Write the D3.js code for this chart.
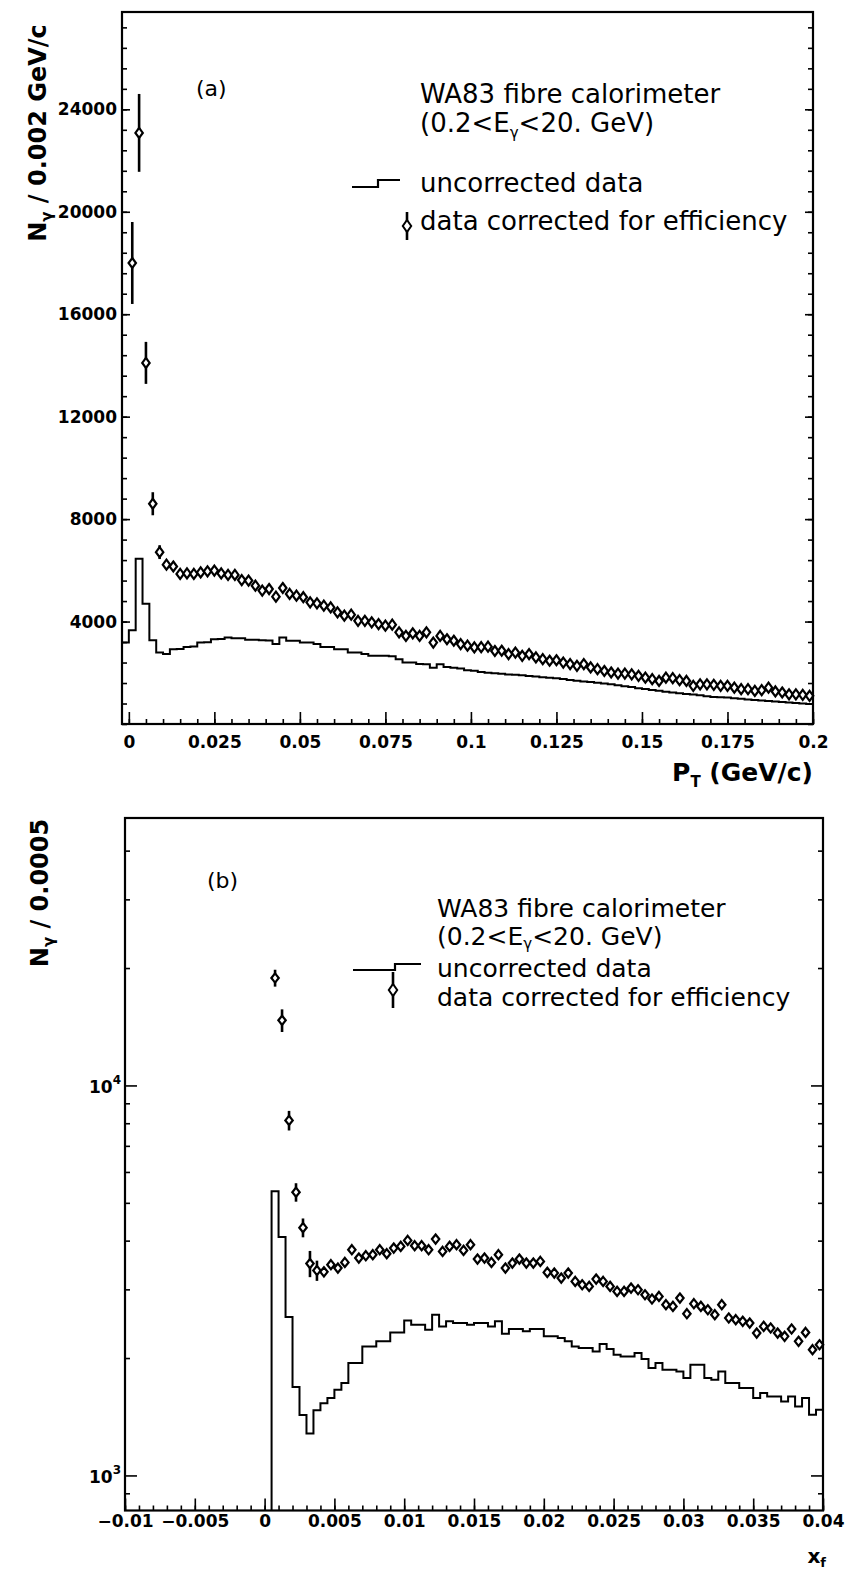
<!DOCTYPE html>
<html>
<head>
<meta charset="utf-8">
<script src="https://cdn.jsdelivr.net/npm/d3@7"></script>
<style>
  body { margin: 0; background: #fff; }
  text { font-family: "DejaVu Sans", sans-serif; fill: #000; }
</style>
</head>
<body>
<script>
// ---- panel (a): pT spectrum, bins of 0.002 GeV/c, first bin starts at -0.002
const ptBinWidth = 0.002;
const ptBinStart = -0.002;
const ptUncorrected = [3180,
  3660, 6450, 4700, 3270, 2790, 2730, 2920, 2930, 3010, 3030,
  3180, 3190, 3310, 3320, 3380, 3350, 3350, 3290, 3290, 3270,
  3260, 3120, 3380, 3250, 3250, 3180, 3180, 3120, 3010, 3010,
  2920, 2920, 2790, 2790, 2730, 2660, 2660, 2660, 2650, 2530,
  2400, 2400, 2340, 2330, 2200, 2330, 2230, 2200, 2170, 2100,
  2080, 2030, 2000, 1980, 1960, 1930, 1920, 1900, 1870, 1850,
  1830, 1810, 1790, 1760, 1720, 1690, 1660, 1640, 1610, 1580,
  1550, 1510, 1470, 1440, 1400, 1370, 1330, 1300, 1260, 1230,
  1200, 1170, 1150, 1120, 1080, 1050, 1040, 1030, 1010, 990,
  960, 940, 920, 900, 880, 860, 840, 820, 800, 780];
// corrected points, bin centres 0.001, 0.003, ...
const ptCorrected = [
  18000, 23080, 14100, 8600, 6710, 6220, 6150, 5860, 5880, 5860,
  5920, 5960, 5990, 5880, 5820, 5820, 5620, 5600, 5400, 5210,
  5270, 4970, 5310, 5080, 5010, 4950, 4750, 4710, 4620, 4550,
  4360, 4230, 4270, 4030, 4030, 3970, 3900, 3840, 3880, 3580,
  3440, 3540, 3440, 3580, 3180, 3440, 3310, 3250, 3120, 3060,
  2990, 3000, 3020, 2850, 2860, 2730, 2790, 2660, 2730, 2600,
  2530, 2470, 2490, 2400, 2340, 2270, 2340, 2210, 2140, 2070,
  2010, 1970, 1970, 1940, 1880, 1810, 1750, 1680, 1810, 1790,
  1710, 1680, 1490, 1550, 1550, 1530, 1490, 1490, 1420, 1360,
  1360, 1290, 1320, 1420, 1270, 1230, 1160, 1160, 1140, 1100];
const ptCorrectedErr = [1600, 1520, 820, 450, 270];   // the rest are hidden inside the markers
const ptErrDefault = 90;
const ptMajorTicks = [0, 0.025, 0.05, 0.075, 0.1, 0.125, 0.15, 0.175, 0.2];
const ptTickLabels = ["0", "0.025", "0.05", "0.075", "0.1", "0.125", "0.15", "0.175", "0.2"];
const nYTicksA = [4000, 8000, 12000, 16000, 20000, 24000];

// ---- panel (b): xF spectrum, bins of 0.0005, first bin starts at 0.0005
const xfBinWidth = 0.0005;
const xfBinStart = 0.0005;
const xfUncorrected = [
  5355, 4089, 2548, 1686, 1429, 1280, 1470, 1531, 1580, 1659,
  1725, 1942, 1942, 2141, 2141, 2207, 2207, 2326, 2326, 2497,
  2434, 2434, 2364, 2583, 2411, 2484, 2459, 2459, 2434, 2459,
  2459, 2411, 2484, 2308, 2374, 2374, 2341, 2374, 2374, 2273,
  2273, 2251, 2207, 2141, 2122, 2122, 2080, 2172, 2110, 2040,
  2019, 2019, 2060, 1988, 1886, 1942, 1866, 1866, 1848, 1777,
  1922, 1922, 1777, 1759, 1848, 1725, 1725, 1675, 1675, 1579,
  1627, 1594, 1594, 1548, 1594, 1503, 1579, 1431, 1474];
const xfCorrected = [
  18860, 14690, 8135, 5324, 4319, 3494, 3354, 3327, 3470, 3402,
  3517, 3791, 3609, 3659, 3681, 3791, 3703, 3828, 3866, 4005,
  3882, 3882, 3791, 4037, 3753, 3866, 3905, 3776, 3905, 3588,
  3609, 3517, 3681, 3402, 3504, 3588, 3504, 3504, 3538, 3316,
  3303, 3207, 3303, 3144, 3083, 3053, 3188, 3144, 3053, 2964,
  2964, 3023, 2993, 2906, 2834, 2877, 2740, 2713, 2850, 2598,
  2756, 2713, 2660, 2583, 2740, 2533, 2508, 2484, 2459, 2318,
  2411, 2388, 2318, 2273, 2374, 2207, 2326, 2101, 2163];
const xfCorrectedErr = [940, 980, 470, 290, 240, 270, 200];
const xfErrDefault = 50;
const xfMajorTicks = [-0.01, -0.005, 0, 0.005, 0.01, 0.015, 0.02, 0.025, 0.03, 0.035, 0.04];
const xfTickLabels = ["\u22120.01", "\u22120.005", "0", "0.005", "0.01", "0.015", "0.02", "0.025", "0.03", "0.035", "0.04"];
const nYTicksB = [1000, 10000];
const nYTicksBExp = ["3", "4"];
const nYMinorB = [900, 2000, 3000, 4000, 5000, 6000, 7000, 8000, 9000, 20000, 30000, 40000];

const legendTitle = "WA83 fibre calorimeter";
const legendUncorr = "uncorrected data";
const legendCorr = "data corrected for efficiency";

const svg = d3.select("body").append("svg")
  .attr("width", 846)
  .attr("height", 1570);

// panel boxes
const boxA = { left: 122, right: 813, top: 12, bottom: 724 };
const boxB = { left: 125, right: 823, top: 818, bottom: 1510.5 };

const xA = d3.scaleLinear().domain([-0.002, 0.2]).range([boxA.left, boxA.right]);
const yA = d3.scaleLinear().domain([0, 27800]).range([boxA.bottom, boxA.top]);
const xB = d3.scaleLinear().domain([-0.01, 0.04]).range([boxB.left, boxB.right]);
const yB = d3.scaleLog().domain([813, 48500]).range([boxB.bottom, boxB.top]);

function styleAxis(g, fs) {
  g.select(".domain").remove();
  g.selectAll(".tick line").attr("stroke", "#000").attr("stroke-width", 1.6);
  g.selectAll(".tick text")
    .attr("font-family", "DejaVu Sans")
    .attr("font-weight", "bold")
    .attr("font-size", fs);
  g.attr("font-family", null).attr("font-size", null);
}

function stepPoints(start, bw, vals, base) {
  const pts = [[start, base]];
  vals.forEach((v, i) => {
    pts.push([start + i * bw, v], [start + (i + 1) * bw, v]);
  });
  pts.push([start + vals.length * bw, base]);
  return pts;
}

function diamond(w, h) {
  return `M0,${-h}L${w},0L0,${h}L${-w},0Z`;
}

function drawPanel(o) {
  const { box, x, y } = o;
  const g = svg.append("g");

  // minor + major x ticks, pointing into the plot
  const gxm = g.append("g").attr("transform", "translate(0," + box.bottom + ")")
    .call(d3.axisBottom(x).tickValues(o.xMinor).tickSize(-5).tickFormat(""));
  styleAxis(gxm, 17);
  const gx = g.append("g").attr("transform", "translate(0," + box.bottom + ")")
    .call(d3.axisBottom(x).tickValues(o.xMajor).tickSize(-12).tickPadding(o.xPad)
      .tickFormat((d, i) => o.xLabels[i]));
  styleAxis(gx, 17);

  // y ticks on both sides
  [["left", box.left, d3.axisLeft], ["right", box.right, d3.axisRight]].forEach(([side, xp, ax]) => {
    const gm = g.append("g").attr("transform", "translate(" + xp + ",0)")
      .call(ax(y).tickValues(o.yMinor).tickSize(-5).tickFormat(""));
    styleAxis(gm, 17);
    const gM = g.append("g").attr("transform", "translate(" + xp + ",0)")
      .call(ax(y).tickValues(o.yMajor).tickSize(-o.yMajorLen).tickPadding(5)
        .tickFormat(side === "left" && o.yFormat ? o.yFormat : ""));
    styleAxis(gM, 17);
  });

  // uncorrected histogram
  const line = d3.line().x(d => x(d[0])).y(d => y(d[1]));
  g.append("path")
    .datum(stepPoints(o.binStart, o.binWidth, o.hist, o.base))
    .attr("d", line)
    .attr("fill", "none")
    .attr("stroke", "#000")
    .attr("stroke-width", 2)
    .attr("stroke-linejoin", "miter");

  // corrected points with error bars
  const pts = o.corr.map((v, i) => ({
    x: o.ptStart + i * o.binWidth,
    v: v,
    e: i < o.err.length ? o.err[i] : o.errDefault
  }));
  g.append("g").selectAll("line").data(pts).join("line")
    .attr("x1", d => x(d.x)).attr("x2", d => x(d.x))
    .attr("y1", d => y(d.v - d.e)).attr("y2", d => y(d.v + d.e))
    .attr("stroke", "#000").attr("stroke-width", 2.6);
  g.append("g").selectAll("path").data(pts).join("path")
    .attr("transform", d => "translate(" + x(d.x) + "," + y(d.v) + ")")
    .attr("d", diamond(o.dw, o.dh))
    .attr("fill", "#fff")
    .attr("stroke", "#000")
    .attr("stroke-width", 2.2);

  // frame
  g.append("rect")
    .attr("x", box.left).attr("y", box.top)
    .attr("width", box.right - box.left).attr("height", box.bottom - box.top)
    .attr("fill", "none").attr("stroke", "#000").attr("stroke-width", 2.2);
  return g;
}

drawPanel({
  box: boxA, x: xA, y: yA,
  xMinor: d3.range(0, 41).map(i => i * 0.005), xMajor: ptMajorTicks, xLabels: ptTickLabels, xPad: 12,
  yMinor: d3.range(0, 35).map(i => i * 800).filter(v => v < 27800), yMajor: nYTicksA, yMajorLen: 8,
  yFormat: d => d,
  hist: ptUncorrected, binStart: ptBinStart, binWidth: ptBinWidth, base: 0,
  corr: ptCorrected, ptStart: 0.001, err: ptCorrectedErr, errDefault: ptErrDefault,
  dw: 3.7, dh: 5
});

const gB = drawPanel({
  box: boxB, x: xB, y: yB,
  xMinor: d3.range(-10, 41).map(i => i * 0.001), xMajor: xfMajorTicks, xLabels: xfTickLabels, xPad: 4,
  yMinor: nYMinorB, yMajor: nYTicksB, yMajorLen: 12,
  yFormat: null,
  hist: xfUncorrected, binStart: xfBinStart, binWidth: xfBinWidth, base: 813,
  corr: xfCorrected, ptStart: 0.00075, err: xfCorrectedErr, errDefault: xfErrDefault,
  dw: 3.7, dh: 4.6
});

// 10^n labels on the log axis
const lab = gB.append("g").selectAll("text").data(nYTicksB).join("text")
  .attr("x", boxB.left - 4)
  .attr("y", d => yB(d) + 8)
  .attr("text-anchor", "end")
  .attr("font-weight", "bold")
  .attr("font-size", 17);
lab.append("tspan").text("10");
lab.append("tspan").attr("dy", -9).attr("font-size", 12).text((d, i) => nYTicksBExp[i]);

// axis titles
function yTitle(xp, yp, rest) {
  const t = svg.append("text")
    .attr("transform", "translate(" + xp + "," + yp + ") rotate(-90)")
    .attr("text-anchor", "middle")
    .attr("font-weight", "bold")
    .attr("font-size", 24);
  t.append("tspan").text("N");
  t.append("tspan").attr("dy", 6).attr("font-size", 15).text("\u03b3");
  t.append("tspan").attr("dy", -6).text(rest);
}
yTitle(46, 133, " / 0.002 GeV/c");
yTitle(48, 893, " / 0.0005");

const px = svg.append("text")
  .attr("x", 813).attr("y", 781)
  .attr("text-anchor", "end")
  .attr("font-weight", "bold")
  .attr("font-size", 25);
px.append("tspan").text("P");
px.append("tspan").attr("dy", 6).attr("font-size", 15).text("T");
px.append("tspan").attr("dy", -6).text(" (GeV/c)");

const xf = svg.append("text")
  .attr("x", 826).attr("y", 1563)
  .attr("text-anchor", "end")
  .attr("font-weight", "bold")
  .attr("font-size", 20);
xf.append("tspan").text("x");
xf.append("tspan").attr("dy", 4).attr("font-size", 13).text("f");

// legends
function legend(o) {
  svg.append("text").attr("x", o.tagX).attr("y", o.tagY).attr("font-size", 22).text(o.tag);
  const lines = [legendTitle, null, legendUncorr, legendCorr];
  lines.forEach((s, i) => {
    const t = svg.append("text").attr("x", o.x).attr("y", o.ys[i]).attr("font-size", o.fs);
    if (s !== null) { t.text(s); return; }
    t.append("tspan").text("(0.2<E");
    t.append("tspan").attr("dy", o.subDy).attr("font-size", 15).text("\u03b3");
    t.append("tspan").attr("dy", -o.subDy).text("<20. GeV)");
  });
  svg.append("path")
    .attr("d", d3.line()(o.step))
    .attr("fill", "none").attr("stroke", "#000").attr("stroke-width", 2.2);
  svg.append("line")
    .attr("x1", o.dx).attr("x2", o.dx).attr("y1", o.dy - o.eh).attr("y2", o.dy + o.eh)
    .attr("stroke", "#000").attr("stroke-width", 2.6);
  svg.append("path")
    .attr("transform", "translate(" + o.dx + "," + o.dy + ")")
    .attr("d", diamond(4.2, 6))
    .attr("fill", "#fff").attr("stroke", "#000").attr("stroke-width", 2);
}

legend({
  tag: "(a)", tagX: 196, tagY: 96,
  x: 420, ys: [103, 132, 192, 230], fs: 26, subDy: 6,
  step: [[352, 187], [378, 187], [378, 180], [400, 180]],
  dx: 407, dy: 226, eh: 14
});
legend({
  tag: "(b)", tagX: 207, tagY: 888,
  x: 437, ys: [917, 945, 977, 1006], fs: 25, subDy: 4,
  step: [[353, 970], [395, 970], [395, 964], [421, 964]],
  dx: 393, dy: 990, eh: 18
});
</script>
</body>
</html>
